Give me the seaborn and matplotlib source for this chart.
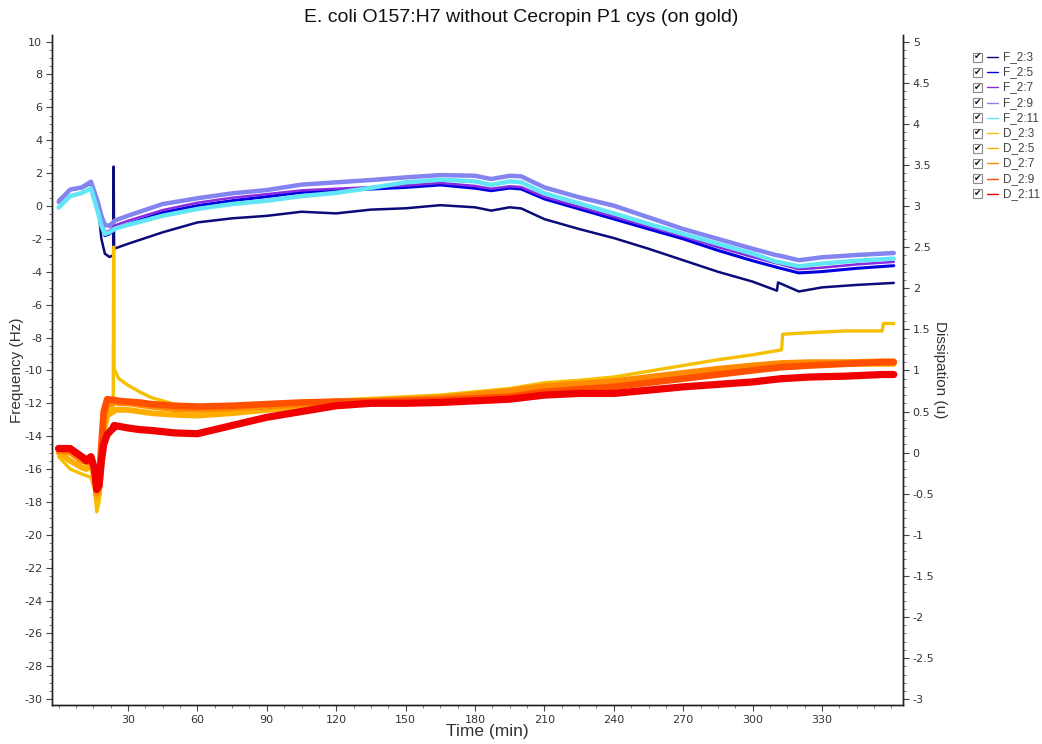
import numpy as np
import pandas as pd
import matplotlib
matplotlib.use("Agg")
import matplotlib.pyplot as plt
from matplotlib.ticker import MultipleLocator, FixedLocator, FuncFormatter
from matplotlib.lines import Line2D
from matplotlib.patches import Rectangle
import seaborn as sns

# ---------------- data ----------------
time_f = [0, 5, 10, 14, 17, 18.5, 20, 22, 23.6, 23.8, 24.0, 30, 45, 60, 75, 90, 105, 120,
          135, 150, 165, 180, 187, 195, 200, 210, 225, 240, 255, 270, 285, 300, 310.5, 311,
          320, 330, 345, 361]

f_2_3 = [0.3, 1.0, 1.1, 1.4, 0.0, -2.0, -2.9, -3.1, -3.0, 2.4, -2.6, -2.3, -1.6, -1.0, -0.75,
         -0.6, -0.35, -0.45, -0.22, -0.14, 0.05, -0.08, -0.28, -0.08, -0.15, -0.8, -1.4, -1.95,
         -2.6, -3.3, -4.0, -4.6, -5.15, -4.65, -5.2, -4.95, -4.8, -4.68]
f_2_5 = [0.3, 1.0, 1.1, 1.4, 0.1, -1.0, -1.8, -1.7, -1.5, -1.45, -1.4, -1.1, -0.4, 0.02, 0.32,
         0.57, 0.83, 0.93, 1.03, 1.13, 1.28, 1.08, 0.93, 1.09, 1.03, 0.43, -0.18, -0.79, -1.4,
         -2.0, -2.7, -3.33, -3.73, -3.75, -4.07, -3.99, -3.79, -3.63]
f_2_7 = [0.35, 1.0, 1.1, 1.45, 0.2, -0.8, -1.6, -1.5, -1.3, -1.25, -1.2, -0.9, -0.25, 0.2, 0.5,
         0.72, 0.95, 1.05, 1.15, 1.25, 1.4, 1.22, 1.05, 1.2, 1.15, 0.55, -0.05, -0.65, -1.25,
         -1.85, -2.5, -3.1, -3.5, -3.5, -3.85, -3.75, -3.55, -3.4]
f_2_9 = [0.25, 1.0, 1.13, 1.48, 0.22, -0.6, -1.15, -1.2, -1.0, -0.95, -0.9, -0.59, 0.12, 0.47,
         0.77, 0.97, 1.3, 1.44, 1.58, 1.74, 1.88, 1.84, 1.64, 1.84, 1.8, 1.13, 0.53, 0.02, -0.69,
         -1.4, -2.0, -2.6, -3.0, -3.0, -3.3, -3.12, -2.98, -2.86]
f_2_11 = [-0.1, 0.6, 0.79, 1.08, -0.38, -1.2, -1.7, -1.6, -1.45, -1.42, -1.4, -1.15, -0.59, -0.18,
          0.12, 0.32, 0.6, 0.8, 1.1, 1.44, 1.6, 1.5, 1.28, 1.5, 1.44, 0.77, 0.16, -0.45, -1.09,
          -1.7, -2.3, -2.9, -3.4, -3.4, -3.67, -3.5, -3.33, -3.2]

time_d = [0, 5, 10, 12, 14, 15.5, 16.5, 17.5, 18.5, 19.5, 21, 23.6, 23.8, 24.0, 26, 30, 35, 40,
          50, 60, 75, 90, 105, 120, 135, 150, 165, 180, 195, 210, 225, 240, 255, 270, 285, 300,
          312.5, 313, 325, 340, 356, 356.5, 361]

d_2_3 = [-0.05, -0.2, -0.26, -0.28, -0.3, -0.45, -0.72, -0.6, -0.25, 0.17, 0.5, 0.57, 2.5, 1.02,
         0.9, 0.82, 0.74, 0.67, 0.59, 0.55, 0.53, 0.56, 0.6, 0.64, 0.66, 0.68, 0.7, 0.74, 0.78,
         0.85, 0.88, 0.92, 0.99, 1.06, 1.13, 1.19, 1.25, 1.44, 1.46, 1.48, 1.48, 1.57, 1.57]
d_2_5 = [0.0, -0.1, -0.18, -0.2, -0.15, -0.3, -0.55, -0.5, -0.15, 0.25, 0.45, 0.5, 0.5, 0.52,
         0.52, 0.52, 0.5, 0.48, 0.46, 0.45, 0.48, 0.52, 0.56, 0.6, 0.62, 0.64, 0.66, 0.7, 0.74,
         0.8, 0.82, 0.85, 0.9, 0.95, 1.0, 1.04, 1.07, 1.07, 1.08, 1.08, 1.08, 1.08, 1.08]
d_2_7 = [0.02, 0.0, -0.1, -0.12, -0.1, -0.25, -0.5, -0.4, 0.0, 0.4, 0.58, 0.6, 0.61, 0.62, 0.6,
         0.6, 0.58, 0.56, 0.53, 0.52, 0.54, 0.56, 0.58, 0.62, 0.63, 0.65, 0.67, 0.71, 0.75, 0.81,
         0.84, 0.87, 0.92, 0.97, 1.02, 1.06, 1.09, 1.09, 1.1, 1.1, 1.11, 1.11, 1.11]
d_2_9 = [0.05, 0.04, -0.05, -0.08, -0.05, -0.2, -0.45, -0.35, 0.1, 0.5, 0.65, 0.64, 0.64, 0.64,
         0.63, 0.62, 0.61, 0.59, 0.57, 0.56, 0.57, 0.59, 0.61, 0.62, 0.62, 0.63, 0.64, 0.66, 0.68,
         0.74, 0.77, 0.8, 0.85, 0.9, 0.95, 1.0, 1.04, 1.04, 1.06, 1.08, 1.1, 1.1, 1.1]
d_2_11 = [0.05, 0.05, -0.05, -0.1, -0.05, -0.2, -0.45, -0.4, -0.1, 0.1, 0.22, 0.3, 0.3, 0.33,
          0.32, 0.3, 0.28, 0.27, 0.24, 0.23, 0.33, 0.43, 0.5, 0.57, 0.6, 0.6, 0.61, 0.63, 0.65,
          0.7, 0.72, 0.72, 0.76, 0.8, 0.83, 0.86, 0.9, 0.9, 0.92, 0.93, 0.95, 0.95, 0.95]

freq_names = ["F_2:3", "F_2:5", "F_2:7", "F_2:9", "F_2:11"]
diss_names = ["D_2:3", "D_2:5", "D_2:7", "D_2:9", "D_2:11"]
x_ticks = [30, 60, 90, 120, 150, 180, 210, 240, 270, 300, 330]

# ---------------- style ----------------
freq_colors = ["#0b0b7a", "#0000e0", "#8a2be2", "#8484f0", "#62e6f6"]
diss_colors = ["#f5c000", "#ffae00", "#ff8a00", "#ff5000", "#f00000"]
freq_widths = [1.8, 2.2, 1.8, 3.2, 3.2]
diss_widths = [2.4, 4.2, 4.2, 4.8, 5.2]

sns.set_theme(style="white")
plt.rcParams["font.family"] = ["Liberation Sans", "DejaVu Sans"]
plt.rcParams["axes.unicode_minus"] = False

fig = plt.figure(figsize=(10.42, 7.44), dpi=100)
ax = fig.add_axes([52 / 1042, 1 - 705 / 744, (903 - 52) / 1042, (705 - 35) / 744])
ax2 = ax.twinx()

dfF = pd.DataFrame({"time": time_f, "F_2:3": f_2_3, "F_2:5": f_2_5, "F_2:7": f_2_7,
                    "F_2:9": f_2_9, "F_2:11": f_2_11})
dfD = pd.DataFrame({"time": time_d, "D_2:3": d_2_3, "D_2:5": d_2_5, "D_2:7": d_2_7,
                    "D_2:9": d_2_9, "D_2:11": d_2_11})

for name, c, lw in zip(freq_names, freq_colors, freq_widths):
    sns.lineplot(data=dfF, x="time", y=name, color=c, linewidth=lw, ax=ax,
                 estimator=None, sort=False, legend=False)
for name, c, lw in zip(diss_names, diss_colors, diss_widths):
    sns.lineplot(data=dfD, x="time", y=name, color=c, linewidth=lw, ax=ax2,
                 estimator=None, sort=False, legend=False)

ylo, yhi = -30.35, 10.4
ax.set_xlim(-2.85, 365)
ax.set_ylim(ylo, yhi)
ax2.set_ylim(ylo / 5 + 3, yhi / 5 + 3)

tick_col = "#333333"
ax.xaxis.set_major_locator(FixedLocator(x_ticks))
ax.xaxis.set_minor_locator(MultipleLocator(7.5))
ax.yaxis.set_major_locator(MultipleLocator(2))
ax.yaxis.set_minor_locator(MultipleLocator(0.5))
ax2.yaxis.set_major_locator(MultipleLocator(0.5))
ax2.yaxis.set_minor_locator(MultipleLocator(0.1))
fmt = FuncFormatter(lambda v, p: f"{v:g}")
ax.yaxis.set_major_formatter(fmt)
ax2.yaxis.set_major_formatter(fmt)

for a in (ax, ax2):
    a.tick_params(which="major", length=4, width=0.8, color="#444444", labelsize=8,
                  labelcolor=tick_col, direction="out", pad=3)
    a.tick_params(which="minor", length=2, width=0.6, color="#666666", direction="out")
    for lab in a.get_xticklabels() + a.get_yticklabels():
        lab.set_family("DejaVu Sans")
    a.spines["top"].set_visible(False)
    for s in ("left", "right", "bottom"):
        a.spines[s].set_color("#222222")
        a.spines[s].set_linewidth(1.0)
ax.tick_params(axis="x", which="both", bottom=True)
ax.tick_params(axis="y", which="both", left=True, right=False)
ax2.tick_params(axis="y", which="both", right=True, left=False)
ax.set_facecolor("white")

ax.set_xlabel("Time (min)", fontsize=12.5, color="#333333")
ax.xaxis.label.set_va("center")
ax.xaxis.set_label_coords(0.512, -0.039)
ax.set_ylabel("Frequency (Hz)", fontsize=11, color="#333333")
ax.yaxis.label.set_va("center")
ax.yaxis.set_label_coords(-0.041, 0.5)
ax2.set_ylabel("Dissipation (u)", fontsize=11, color="#333333", rotation=270)
ax2.yaxis.label.set_va("center")
ax2.yaxis.set_label_coords(1.044, 0.5)

fig.text(0.5, 1 - 18 / 744, "E. coli O157:H7 without Cecropin P1 cys (on gold)",
         ha="center", va="center", fontsize=14, color="#111111")

# legend with checkboxes (figure coordinates)
W, H = 1042, 744
names = freq_names + diss_names
colors = freq_colors + diss_colors
for i, (n, c) in enumerate(zip(names, colors)):
    yp = 57 + i * 15.2
    fig.add_artist(Rectangle((973 / W, 1 - (yp + 4.5) / H), 9 / W, 9 / H,
                             transform=fig.transFigure, facecolor="white",
                             edgecolor="#8a8a8a", linewidth=0.8))
    fig.text(977.5 / W, 1 - yp / H, "\u2714", ha="center", va="center", fontsize=6.5,
             color="#111111", family="DejaVu Sans")
    fig.add_artist(Line2D([987 / W, 998 / W], [1 - yp / H, 1 - yp / H],
                          transform=fig.transFigure, color=c, linewidth=1.0))
    fig.text(1003 / W, 1 - yp / H, n, ha="left", va="center", fontsize=8.5, color="#444444")

fig.savefig("out.png", dpi=100, facecolor="white")
